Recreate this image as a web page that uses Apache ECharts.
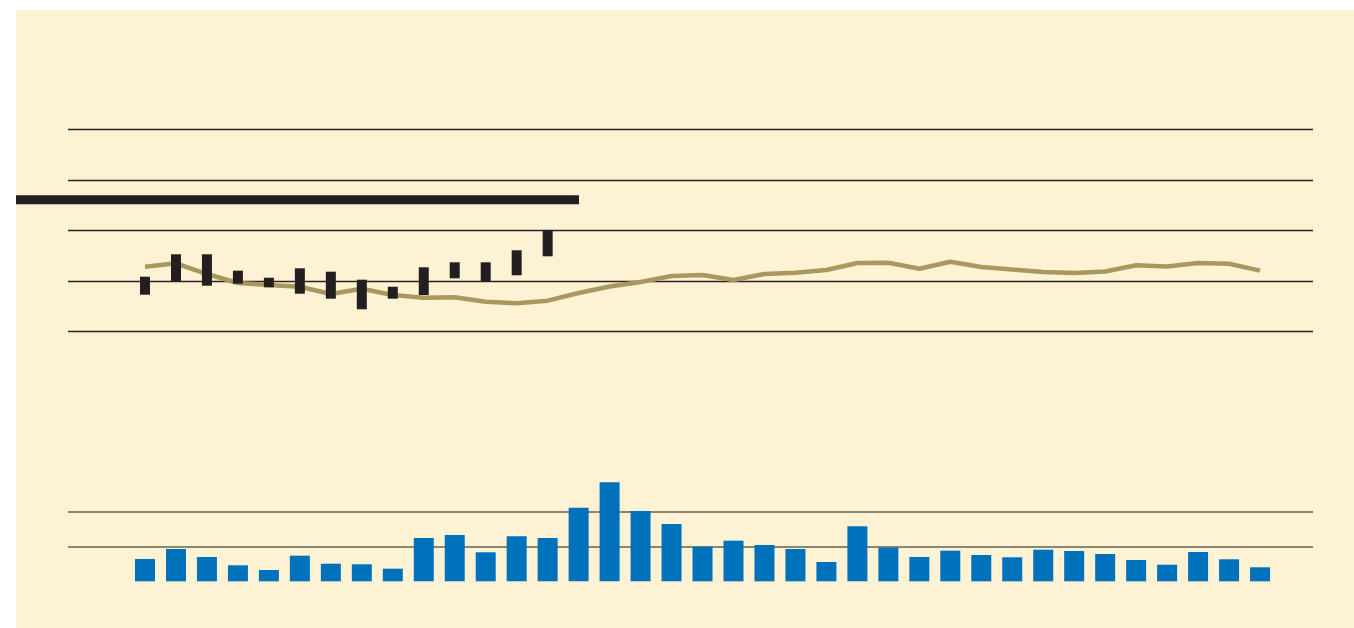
<!DOCTYPE html>
<html>
<head>
<meta charset="utf-8">
<script src="https://cdn.jsdelivr.net/npm/echarts@6/dist/echarts.min.js"></script>
<style>
  html, body { margin: 0; padding: 0; background: #ffffff; }
  #panel { position: absolute; left: 16px; top: 10px; width: 1338px; height: 618px; background: #fef2d4; }
  #chart { position: absolute; left: 0; top: 0; width: 1354px; height: 628px; }
</style>
</head>
<body>
<div id="panel"></div>
<div id="chart"></div>
<script>
// ---- data ----
const categories = Array.from({length: 37}, (_, i) => String(i + 1));

// tan line (upper panel)
const lineValues = [72.85, 73.52, 71.40, 69.62, 69.23, 68.89, 67.45, 68.50, 67.25, 66.72,
                    66.80, 65.93, 65.61, 66.13, 67.65, 68.93, 69.82, 71.01, 71.21, 70.22,
                    71.40, 71.66, 72.19, 73.58, 73.64, 72.45, 73.83, 72.79, 72.29, 71.80,
                    71.60, 71.90, 73.12, 72.89, 73.58, 73.44, 72.06];

// black floating ranges (upper panel), first 14 periods
const rangeLow  = [67.31, 70.02, 69.09, 69.49, 68.77, 67.51, 66.52, 64.43, 66.52, 67.25, 70.55, 70.02, 71.15, 74.90];
const rangeHigh = [70.87, 75.30, 75.30, 72.06, 70.67, 72.53, 71.86, 70.28, 68.89, 72.73, 73.72, 73.72, 76.09, 80.10];

// thick reference level
const refLevel = [86.1, 86.1];

// blue bars (lower panel)
const barValues = [6.44, 9.32, 7.01, 4.62, 3.26, 7.39, 5.08, 4.91, 3.64, 12.50,
                   13.36, 8.37, 12.99, 12.50, 21.24, 28.57, 20.29, 16.54, 9.99, 11.72,
                   10.48, 9.32, 5.57, 15.87, 9.70, 7.01, 8.83, 7.59, 6.93, 9.12,
                   8.74, 7.88, 6.15, 4.79, 8.46, 6.35, 4.04];

// tick values
const upperTicks = [60, 70, 80, 90, 100];
const lowerTicks = [0, 10, 20, 30];

// ---- chart ----
const chart = echarts.init(document.getElementById('chart'), null, {renderer: 'canvas'});

const xMin = -2.486, xMax = 37.71;
const xAxisCommon = {
  type: 'value', min: xMin, max: xMax,
  axisLine: {show: false}, axisTick: {show: false}, axisLabel: {show: false}, splitLine: {show: false}
};

const lineData = lineValues.map((v, i) => [i, v]);
const rangeData = rangeLow.map((lo, i) => [i, lo, rangeHigh[i]]);
const barData = barValues.map((v, i) => [i, v]);
const refData = refLevel.map((v, i) => [i, v]);

chart.setOption({
  animation: false,
  backgroundColor: 'transparent',
  grid: [
    {left: 68, right: 41, top: 129.3, bottom: 296.3},
    {left: 68, right: 41, top: 477.3, bottom: 46.7},
    {left: 16, right: 775, top: 129.3, bottom: 296.3}
  ],
  xAxis: [
    Object.assign({gridIndex: 0}, xAxisCommon),
    Object.assign({gridIndex: 1}, xAxisCommon),
    {gridIndex: 2, type: 'value', min: 0, max: 1, show: false}
  ],
  yAxis: [
    {gridIndex: 0, type: 'value', min: upperTicks[0], max: upperTicks[upperTicks.length - 1], interval: 10,
     axisLine: {show: false}, axisTick: {show: false}, axisLabel: {show: false},
     splitLine: {show: true, lineStyle: {color: '#2a2420', width: 1.3}}},
    {gridIndex: 1, type: 'value', min: lowerTicks[0], max: lowerTicks[lowerTicks.length - 1], interval: 10,
     axisLine: {show: false}, axisTick: {show: false}, axisLabel: {show: false},
     splitLine: {show: true, showMinLine: false, showMaxLine: false, lineStyle: {color: '#8c8572', width: 2}}},
    {gridIndex: 2, type: 'value', min: upperTicks[0], max: upperTicks[upperTicks.length - 1], show: false}
  ],
  series: [
    {
      type: 'line', xAxisIndex: 2, yAxisIndex: 2, data: refData,
      symbol: 'none', lineStyle: {color: '#231f20', width: 9, cap: 'butt'}, z: 3
    },
    {
      type: 'line', xAxisIndex: 0, yAxisIndex: 0, data: lineData,
      symbol: 'none', lineStyle: {color: '#a8985f', width: 4.5}, z: 4
    },
    {
      type: 'custom', xAxisIndex: 0, yAxisIndex: 0, data: rangeData,
      encode: {x: 0, y: [1, 2]},
      renderItem: function (params, api) {
        const x = api.value(0);
        const top = api.coord([x, api.value(2)]);
        const bot = api.coord([x, api.value(1)]);
        return {
          type: 'rect',
          shape: {x: top[0] - 5, y: top[1], width: 10, height: bot[1] - top[1]},
          style: {fill: '#231f20'}
        };
      },
      z: 5
    },
    {
      type: 'bar', xAxisIndex: 1, yAxisIndex: 1, data: barData,
      barWidth: 20, itemStyle: {color: '#0072bc'}
    }
  ]
});
</script>
</body>
</html>
